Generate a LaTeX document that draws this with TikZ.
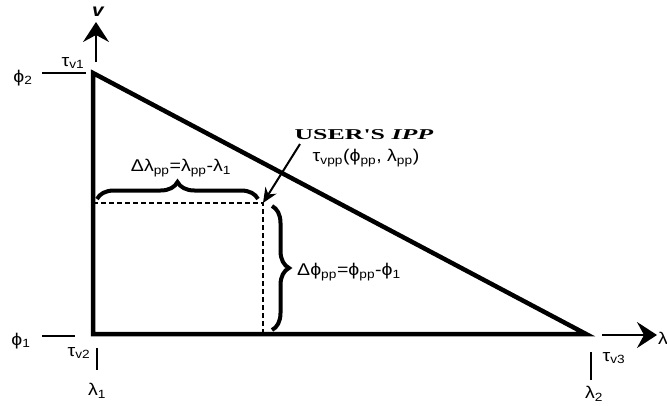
\documentclass[tikz,border=0pt]{standalone}
\usepackage{fontspec}
\setmainfont{Liberation Sans}
\newfontfamily\titlefont{Liberation Serif}
\usetikzlibrary{arrows.meta, decorations.pathreplacing}
\newcommand{\sub}[1]{\textsubscript{#1}}

\begin{document}
\begin{tikzpicture}[x=1pt, y=-1pt,
    lbl/.style={font=\fontsize{17}{19}\selectfont, xscale=1.15, inner sep=0pt},
    tickline/.style={line width=1.4pt},
    edge/.style={line width=4.5pt, line join=miter},
    axis/.style={line width=2pt, -{Stealth[length=20pt, width=26pt, inset=7pt]}},
    brc/.style={line width=4pt, decorate, decoration={brace, amplitude=17pt}}]
    \useasboundingbox (0,0) rectangle (667,405);

    % Triangle
    \coordinate (t1) at (93,73);
    \coordinate (t2) at (93,334);
    \coordinate (t3) at (586,334);
    \draw[edge] (t1) -- (t2) -- (t3) -- cycle;

    % Axes
    \coordinate (v0) at (96,62);
    \coordinate (v1) at (96,22);
    \coordinate (x0) at (602,335);
    \coordinate (x1) at (657,335);
    \draw[axis] (v0) -- (v1);
    \draw[axis] (x0) -- (x1);
    \node[lbl, font=\fontsize{18}{20}\selectfont\bfseries\itshape] (vlab) at (98,12) {v};
    \node[lbl, anchor=west] (xlab) at (658,338) {λ};

    % Corner labels
    \node[lbl] (phi2) at (23,78) {ϕ\sub{2}};
    \node[lbl] (phi1) at (21,341) {ϕ\sub{1}};
    \node[lbl] (tv1) at (73,63) {τ\sub{v1}};
    \node[lbl] (tv2) at (79,353) {τ\sub{v2}};
    \node[lbl] (tv3) at (614,358) {τ\sub{v3}};
    \node[lbl] (lam1) at (97,391) {λ\sub{1}};
    \node[lbl] (lam2) at (594,394) {λ\sub{2}};
    \draw[tickline] (42,73) -- (86,73);
    \draw[tickline] (42,336) -- (75,336);
    \draw[tickline] (97,348) -- (97,370);
    \draw[tickline] (591,352) -- (591,380);

    % Point of the user and its box
    \coordinate (pp) at (263,203);
    \draw[line width=2.4pt, dash pattern=on 5pt off 3pt] (t1 |- pp) -- (pp) -- (pp |- t2);

    % Braces
    \coordinate (hb1) at (97,199);
    \coordinate (hb2) at (258,199);
    \coordinate (vb1) at (272,206);
    \coordinate (vb2) at (272,330);
    \draw[brc] (hb1) -- (hb2);
    \draw[brc] (vb1) -- (vb2);
    \node[lbl] (dlam) at (181,168) {Δλ\sub{pp}=λ\sub{pp}-λ\sub{1}};
    \node[lbl, anchor=west] (dphi) at (297,272) {Δϕ\sub{pp}=ϕ\sub{pp}-ϕ\sub{1}};

    % Label of the point
    \node[lbl, font=\fontsize{15}{17}\titlefont\bfseries, xscale=1.5] (ipp) at (364,135) {USER'S \textit{IPP}};
    \node[lbl] (tpp) at (366,158) {τ\sub{vpp}(ϕ\sub{pp}, λ\sub{pp})};
    \coordinate (src) at (300,144);
    \draw[line width=2pt, -{Stealth[length=15pt, width=13pt]}] (src) -- (pp);
\end{tikzpicture}
\end{document}
